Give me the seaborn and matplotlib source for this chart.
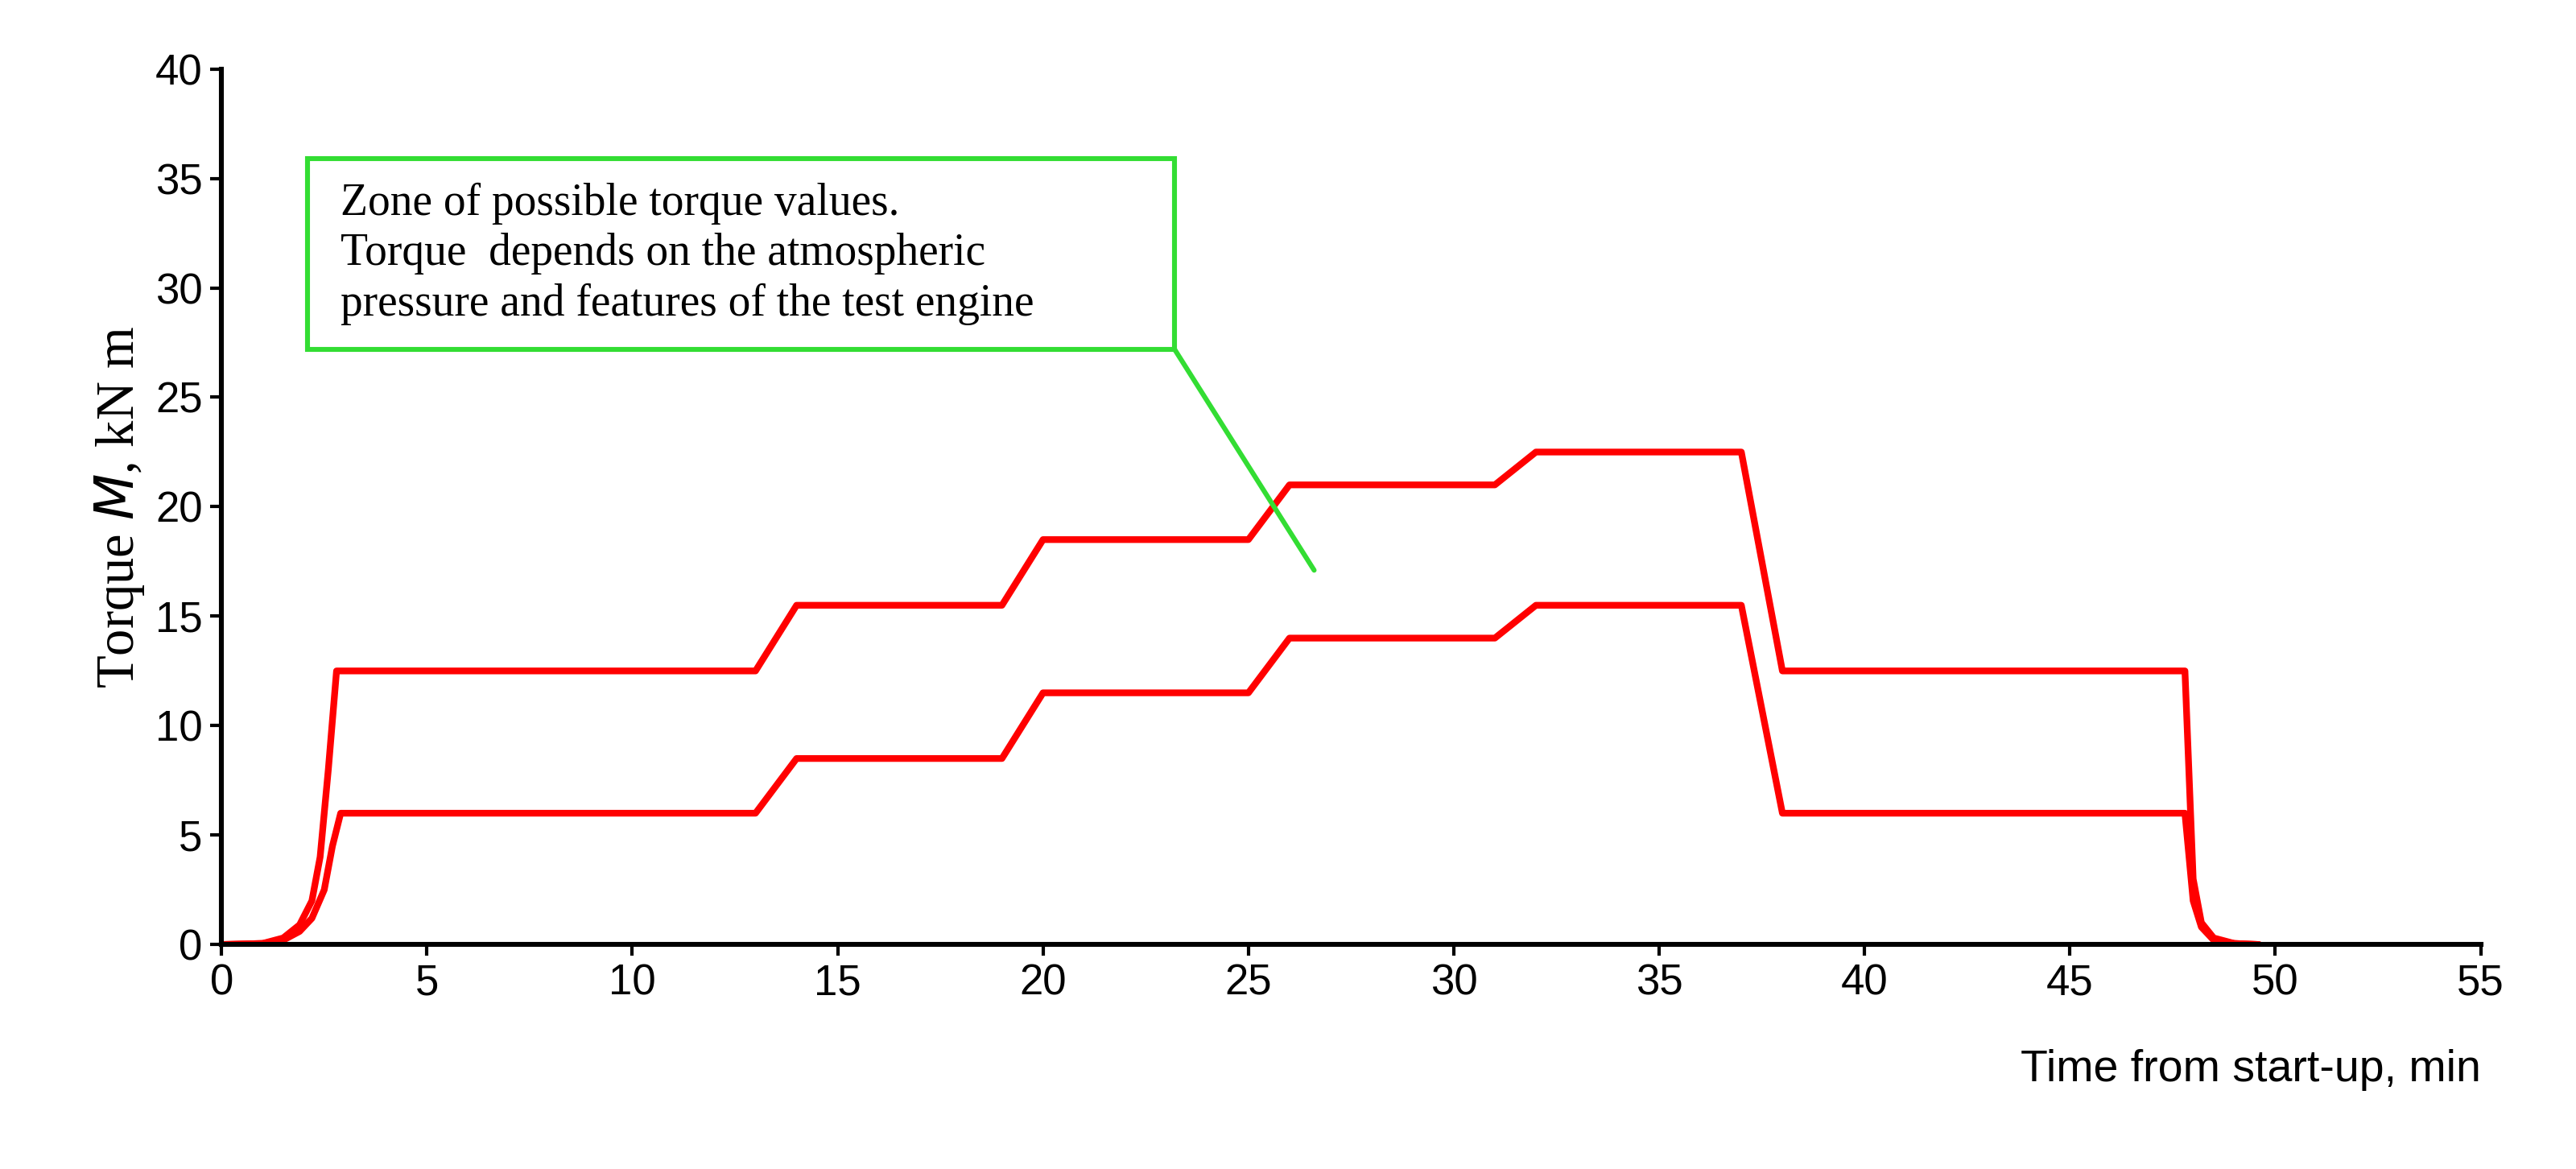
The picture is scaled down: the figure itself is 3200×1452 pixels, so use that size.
import numpy as np
import matplotlib.pyplot as plt
import seaborn as sns
from matplotlib.patches import Rectangle

sns.set_style('white')
plt.rcParams['font.family'] = ['Liberation Sans', 'DejaVu Sans']

# upper and lower torque bounds
t_up = [0, 1.0, 1.5, 1.9, 2.2, 2.4, 2.6, 2.8, 13, 14, 19, 20, 25, 26, 31, 32, 37, 38, 47.8, 48.0, 48.2, 48.5, 49.0, 49.6]
m_up = [0, 0.05, 0.3, 0.9, 2.0, 4.0, 8.0, 12.5, 12.5, 15.5, 15.5, 18.5, 18.5, 21, 21, 22.5, 22.5, 12.5, 12.5, 3.0, 1.0, 0.3, 0.05, 0]
t_lo = [0, 1.0, 1.5, 1.9, 2.2, 2.5, 2.7, 2.9, 13, 14, 19, 20, 25, 26, 31, 32, 37, 38, 47.8, 48.0, 48.2, 48.5, 49.0, 49.6]
m_lo = [0, 0.05, 0.2, 0.6, 1.2, 2.5, 4.5, 6.0, 6.0, 8.5, 8.5, 11.5, 11.5, 14, 14, 15.5, 15.5, 6.0, 6.0, 2.0, 0.8, 0.2, 0.05, 0]

fig = plt.figure(figsize=(16, 7.26), dpi=200)
ax = fig.add_axes([0.086, 0.192, 0.877, 0.749])
sns.lineplot(x=t_up, y=m_up, ax=ax, color='red', lw=3, sort=False)
sns.lineplot(x=t_lo, y=m_lo, ax=ax, color='red', lw=3, sort=False)

ax.set_xlim(0, 55)
ax.set_ylim(0, 40)
ax.set_xticks(range(0, 56, 5))
ax.set_yticks(range(0, 41, 5))
ax.tick_params(labelsize=19, direction='out', length=5, width=1.5, bottom=True, left=True, colors='black')
for s in ['top', 'right']:
    ax.spines[s].set_visible(False)
for s in ['left', 'bottom']:
    ax.spines[s].set_linewidth(2.2)
    ax.spines[s].set_color('black')

ax.set_ylabel('Torque $\\it{M}$, kN m', family='Liberation Serif', fontsize=24, color='black')
fig.text(0.963, 0.075, 'Time from start-up, min', ha='right', fontsize=20, color='black')

# annotation box
ax.add_patch(Rectangle((2.1, 27.2), 21.1, 8.7, fill=False, edgecolor='#33dd33', lw=2.2))
ax.plot([23.2, 26.6], [27.2, 17.1], color='#33dd33', lw=2.2)
ax.text(2.9, 34.8, 'Zone of possible torque values.\nTorque  depends on the atmospheric\npressure and features of the test engine',
        family='Liberation Serif', fontsize=20, va='top', linespacing=1.25, color='black')

fig.savefig('out.png', dpi=200)
